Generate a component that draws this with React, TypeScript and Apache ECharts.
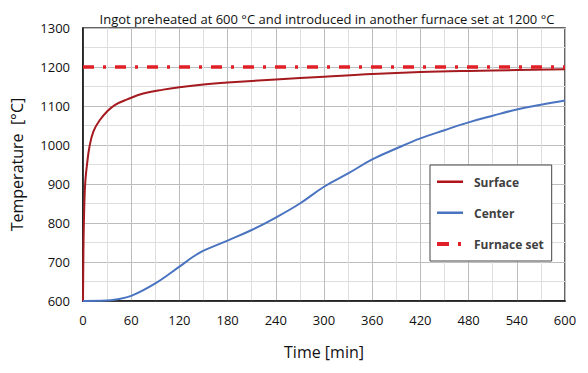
import React, { useEffect, useRef } from "react";
import * as echarts from "echarts";

const titleText = "Ingot preheated at 600 °C and introduced in another furnace set at 1200 °C";

const surfaceTime = [0, 0.5, 1, 2, 3, 5, 8, 13, 21, 30, 40, 55, 75, 100, 120, 150, 180, 240, 300, 360, 420, 480, 540, 600];
const surfaceTemp = [600, 720, 790, 870, 910, 950, 995, 1035, 1064, 1086, 1103, 1117, 1132, 1142, 1148, 1155, 1160, 1168, 1175, 1182, 1187, 1190, 1192, 1194];

const centerTime = [0, 29, 41, 60, 90, 120, 137.5, 150, 180, 210, 240, 270, 300, 330, 360, 390, 420, 450, 480, 510, 540, 570, 600];
const centerTemp = [600, 601, 604, 613, 645, 688, 714, 729, 755, 782, 814, 850, 893, 927, 963, 991, 1017, 1038, 1058, 1075, 1091, 1103, 1114];

const furnaceTime = [0, 600];
const furnaceTemp = [1200, 1200];

const zip = (a: number[], b: number[]) => a.map((v, i) => [v, b[i]]);

export default function App() {
  const ref = useRef<HTMLDivElement>(null);
  useEffect(() => {
    if (!ref.current) return;
    const chart = echarts.init(ref.current, null, { renderer: "svg" });
    const font = "'Open Sans', 'Noto Sans', sans-serif";
    chart.setOption({
      animation: false,
      backgroundColor: "#ffffff",
      title: {
        text: titleText,
        left: 322,
        textAlign: "center",
        top: 7,
        textStyle: { fontFamily: font, fontSize: 13, fontWeight: "normal", color: "#111" },
      },
      grid: { left: 83, right: 23, top: 28, bottom: 72, show: true, borderColor: "#333", borderWidth: 1.5 },
      legend: {
        orient: "vertical",
        left: 430,
        top: 165,
        width: 124,
        padding: [11, 8, 11, 7],
        itemGap: 19,
        itemWidth: 26,
        itemHeight: 4,
        backgroundColor: "#fff",
        borderColor: "#444",
        borderWidth: 1,
        textStyle: { fontFamily: font, fontSize: 12, fontWeight: "bold", color: "#404040", padding: [0, 0, 0, 6] },
        data: [
          { name: "Surface", icon: "path://M0,0.4h26v2.6h-26z M0,0h0.01v4h-0.01z", itemStyle: { color: "#b0141a" } },
          { name: "Center", icon: "path://M0,0.4h26v2.6h-26z M0,0h0.01v4h-0.01z", itemStyle: { color: "#4a74c0" } },
          { name: "Furnace set", icon: "path://M0,0h12v4h-12z M21,0h3v4h-3z M26,0h0.01v4h-0.01z", itemStyle: { color: "#e01f26" } },
        ],
      },
      xAxis: {
        type: "value",
        min: 0,
        max: 600,
        interval: 60,
        name: "Time [min]",
        nameLocation: "middle",
        nameGap: 43,
        nameTextStyle: { fontFamily: font, fontSize: 16, color: "#111" },
        axisLine: { onZero: false, lineStyle: { color: "#111", width: 1.5 } },
        axisTick: { show: false },
        axisLabel: { fontFamily: font, fontSize: 13, color: "#111", margin: 12, formatter: (v: number) => String(v) },
        splitLine: { show: true, lineStyle: { color: "#bdbdbd", width: 1 } },
        minorTick: { show: false, splitNumber: 2 },
        minorSplitLine: { show: true, lineStyle: { color: "#dedede", width: 1 } },
      },
      yAxis: {
        type: "value",
        min: 600,
        max: 1300,
        interval: 100,
        name: "Temperature  [°C]",
        nameLocation: "middle",
        nameGap: 58,
        nameTextStyle: { fontFamily: font, fontSize: 16, color: "#111" },
        axisLine: { show: true, lineStyle: { color: "#111", width: 1.5 } },
        axisTick: { show: false },
        axisLabel: { fontFamily: font, fontSize: 13, color: "#111", margin: 13, formatter: (v: number) => String(v) },
        splitLine: { show: true, lineStyle: { color: "#bdbdbd", width: 1 } },
        minorTick: { show: false, splitNumber: 2 },
        minorSplitLine: { show: true, lineStyle: { color: "#dedede", width: 1 } },
      },
      series: [
        {
          name: "Surface",
          type: "line",
          data: zip(surfaceTime, surfaceTemp),
          showSymbol: false,
          symbol: "none",
          smooth: 0.4,
          lineStyle: { color: "#a51a1f", width: 2 },
          itemStyle: { color: "#a51a1f" },
          z: 3,
        },
        {
          name: "Center",
          type: "line",
          data: zip(centerTime, centerTemp),
          showSymbol: false,
          symbol: "none",
          smooth: 0.4,
          lineStyle: { color: "#4a74c0", width: 2 },
          itemStyle: { color: "#4a74c0" },
          z: 3,
        },
        {
          name: "Furnace set",
          type: "line",
          data: zip(furnaceTime, furnaceTemp),
          showSymbol: false,
          symbol: "none",
          lineStyle: { color: "#e01f26", width: 3.5, type: [11, 9, 3, 9] },
          itemStyle: { color: "#e01f26" },
          z: 4,
        },
      ],
    });
    return () => chart.dispose();
  }, []);
  return <div ref={ref} style={{ width: 588, height: 373, position: "absolute", left: 0, top: 0 }} />;
}
